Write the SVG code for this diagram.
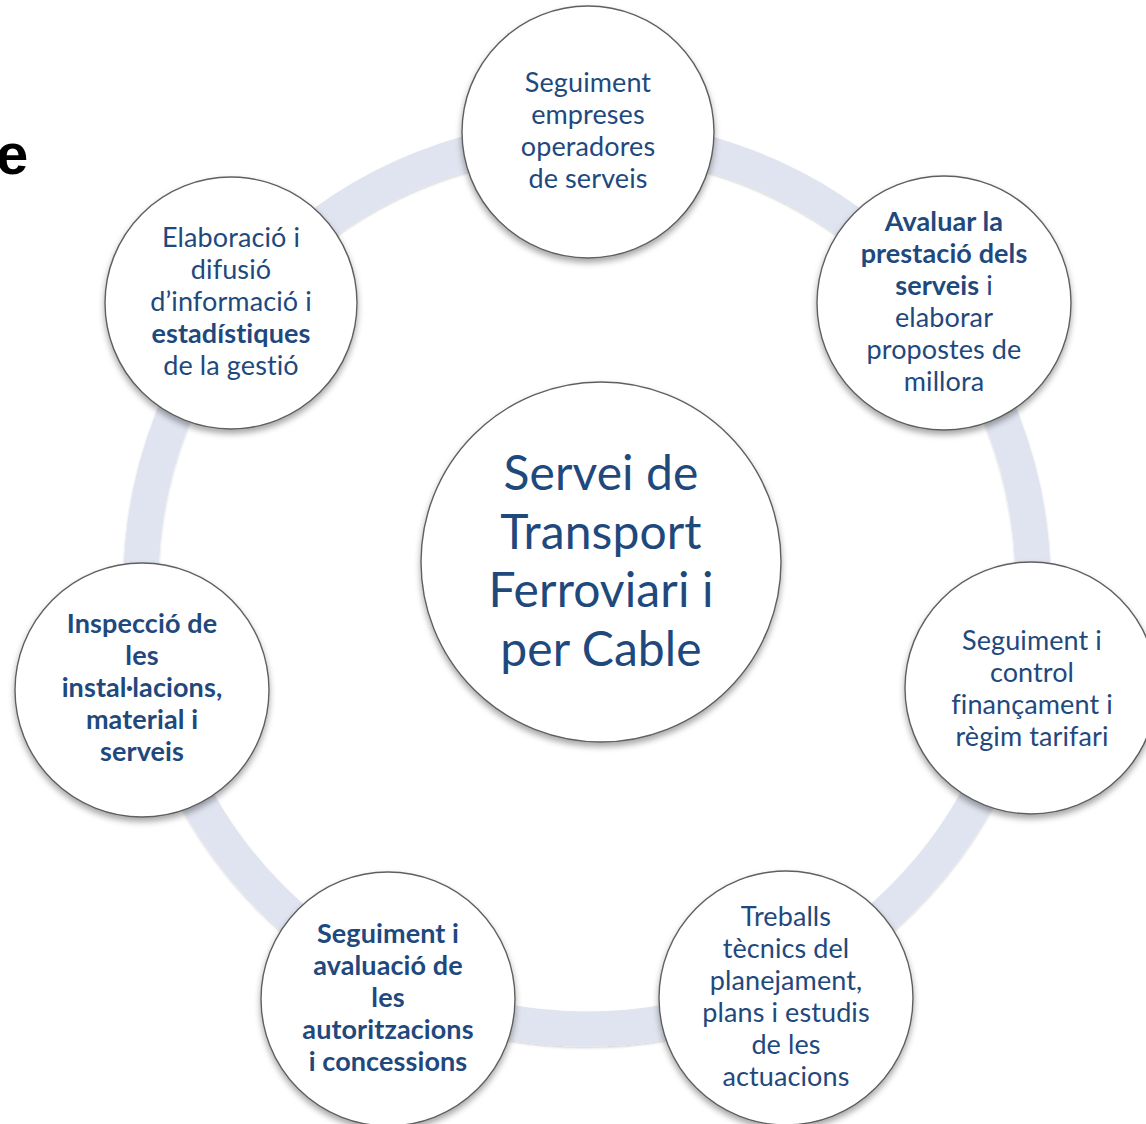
<svg xmlns="http://www.w3.org/2000/svg" width="1146" height="1124" viewBox="0 0 1146 1124">
  <defs>
    <filter id="sh" x="-20%" y="-20%" width="140%" height="150%">
      <feDropShadow dx="0" dy="4" stdDeviation="3" flood-color="#000" flood-opacity="0.35"/>
    </filter>
    <filter id="bandsh" x="-10%" y="-10%" width="120%" height="120%">
      <feDropShadow dx="0" dy="1.5" stdDeviation="1.2" flood-color="#000" flood-opacity="0.18"/>
    </filter>
  </defs>
  <style>
    .node { fill: #ffffff; stroke: #5f5f5f; stroke-width: 1.4; filter: url(#sh); }
    .t { font-family: Lato, "Open Sans", "Liberation Sans", sans-serif; font-size: 27px; fill: #1f497d; text-anchor: middle; font-variant-ligatures: none; font-feature-settings: "liga" 0, "clig" 0, "dlig" 0, "calt" 0; letter-spacing: 0.1px; }
    .b { font-weight: bold; }
    .big { font-size: 48px; }
    .band { fill: none; stroke: #dfe4f0; stroke-width: 35; filter: url(#bandsh); }
  </style>
  <rect width="1146" height="1124" fill="#ffffff"/>
  <text x="-4" y="174" font-family="'Liberation Sans', Arial, sans-serif" font-size="58" font-weight="bold" fill="#000000">e</text>

  <g id="connectors">
    <circle class="band" cx="587" cy="583" r="446"/>
  </g>

  <g id="center">
    <circle class="node" cx="601" cy="562" r="180"/>
    <text class="t big" x="601" y="490">Servei de</text>
    <text class="t big" x="601" y="549">Transport</text>
    <text class="t big" x="601" y="607">Ferroviari i</text>
    <text class="t big" x="601" y="666">per Cable</text>
  </g>

  <g id="n1">
    <circle class="node" cx="588" cy="132" r="126"/>
    <text class="t" x="588" y="92">Seguiment</text>
    <text class="t" x="588" y="124">empreses</text>
    <text class="t" x="588" y="156">operadores</text>
    <text class="t" x="588" y="188">de serveis</text>
  </g>

  <g id="n2">
    <circle class="node" cx="944" cy="303" r="127"/>
    <text class="t b" x="944" y="231">Avaluar la</text>
    <text class="t b" x="944" y="263">prestació dels</text>
    <text class="t" x="944" y="295"><tspan class="b">serveis</tspan> i</text>
    <text class="t" x="944" y="327">elaborar</text>
    <text class="t" x="944" y="359">propostes de</text>
    <text class="t" x="944" y="391">millora</text>
  </g>

  <g id="n3">
    <circle class="node" cx="1031" cy="688" r="126"/>
    <text class="t" x="1032" y="650">Seguiment i</text>
    <text class="t" x="1032" y="682">control</text>
    <text class="t" x="1032" y="714">finançament i</text>
    <text class="t" x="1032" y="746">règim tarifari</text>
  </g>

  <g id="n4">
    <circle class="node" cx="786" cy="998" r="127"/>
    <text class="t" x="786" y="926">Treballs</text>
    <text class="t" x="786" y="958">tècnics del</text>
    <text class="t" x="786" y="990">planejament,</text>
    <text class="t" x="786" y="1022">plans i estudis</text>
    <text class="t" x="786" y="1054">de les</text>
    <text class="t" x="786" y="1086">actuacions</text>
  </g>

  <g id="n5">
    <circle class="node" cx="388" cy="999" r="127"/>
    <text class="t b" x="388" y="943">Seguiment i</text>
    <text class="t b" x="388" y="975">avaluació de</text>
    <text class="t b" x="388" y="1007">les</text>
    <text class="t b" x="388" y="1039">autoritzacions</text>
    <text class="t b" x="388" y="1071">i concessions</text>
  </g>

  <g id="n6">
    <circle class="node" cx="142" cy="690" r="127"/>
    <text class="t b" x="142" y="633">Inspecció de</text>
    <text class="t b" x="142" y="665">les</text>
    <text class="t b" x="142" y="697">instal·lacions,</text>
    <text class="t b" x="142" y="729">material i</text>
    <text class="t b" x="142" y="761">serveis</text>
  </g>

  <g id="n7">
    <circle class="node" cx="231" cy="303" r="126"/>
    <text class="t" x="231" y="247">Elaboració i</text>
    <text class="t" x="231" y="279">difusió</text>
    <text class="t" x="231" y="311">d’informació i</text>
    <text class="t b" x="231" y="343">estadístiques</text>
    <text class="t" x="231" y="375">de la gestió</text>
  </g>
</svg>
